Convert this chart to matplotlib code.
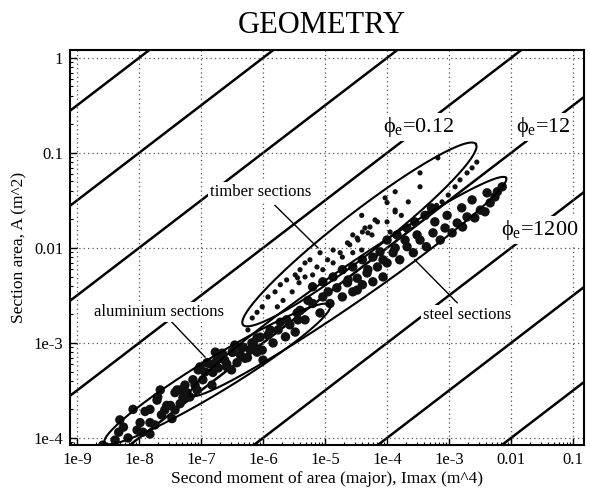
import numpy as np
import matplotlib
matplotlib.use('Agg')
import matplotlib.pyplot as plt

plt.rcParams['font.family'] = ['Liberation Serif', 'DejaVu Serif']
plt.rcParams['mathtext.fontset'] = 'custom'
plt.rcParams['mathtext.rm'] = 'Liberation Serif'
plt.rcParams['mathtext.it'] = 'Liberation Serif:italic'

# ---------------- data ----------------
alu_I = [2.6e-9, 4.7e-9, 4.9e-9, 5.6e-9, 8.0e-9, 1.04e-8, 1.15e-8, 1.25e-8, 1.5e-8, 1.5e-8,
         1.5e-8, 2.0e-8, 2.3e-8, 3.2e-8, 3.4e-8, 3.8e-8, 4.6e-8, 4.6e-8, 5.5e-8, 6.6e-8,
         7.4e-8, 8.6e-8, 1.95e-8, 2.8e-8, 4.1e-8, 5.9e-8, 1.07e-7, 1.25e-7, 1.55e-7, 1.8e-7,
         2.2e-7, 2.6e-7, 3.2e-7, 3.8e-7, 4.8e-7, 5.6e-7, 6.9e-7, 8.0e-7, 9.0e-8, 9.0e-7, 1.0e-6,
         6.65e-9, 9.3e-9, 1.8e-8, 2.6e-8, 3.8e-8, 5.1e-8, 8.0e-8, 1.16e-7, 1.5e-7, 1.9e-7,
         2.4e-7, 3.1e-7, 4.3e-7, 6.2e-7, 4.1e-9, 2.2e-8]
alu_A = [8.4e-5, 1.15e-4, 1.55e-4, 1.3e-4, 2.0e-4, 1.45e-4, 1.15e-4, 1.9e-4, 2.0e-4, 1.45e-4,
         1.1e-4, 2.7e-4, 1.75e-4, 2.2e-4, 1.6e-4, 3.0e-4, 3.2e-4, 2.3e-4, 3.6e-4, 2.7e-4,
         4.1e-4, 3.2e-4, 2.5e-4, 2.2e-4, 3.2e-4, 3.0e-4, 4.1e-4, 6.2e-4, 4.9e-4, 6.6e-4,
         7.8e-4, 5.6e-4, 8.0e-4, 6.2e-4, 9.0e-4, 7.0e-4, 1.0e-3, 8.0e-4, 5.2e-4, 1.15e-3, 6.6e-4,
         1.0e-4, 1.21e-4, 1.37e-4, 1.97e-4, 1.97e-4, 2.64e-4, 3.6e-4, 4.95e-4, 3.6e-4, 5.45e-4,
         6.6e-4, 5.2e-4, 7.5e-4, 8.4e-4, 9.5e-5, 3.2e-4]

steel_I = [9.6e-8, 1.4e-7, 2.0e-7, 2.6e-7, 3.2e-7, 4.3e-7, 5.1e-7, 6.6e-7, 8.0e-7, 9.7e-7,
           1.2e-6, 1.45e-6, 1.75e-6, 2.3e-6, 2.7e-6, 3.3e-6, 3.65e-6,
           2.4e-6, 3.55e-6, 4.75e-6, 6.3e-6, 8.3e-6, 9.2e-6, 1.2e-5, 1.55e-5, 1.9e-5, 2.3e-5,
           2.8e-5, 3.3e-5, 4.0e-5, 4.75e-5, 5.9e-5, 7.0e-5, 8.6e-5, 1.0e-4,
           8.6e-5, 1.25e-4, 1.6e-4, 2.1e-4, 2.65e-4, 3.4e-4, 4.3e-4, 5.5e-4, 7.2e-4, 8.6e-4,
           1.12e-3, 1.35e-3, 1.65e-3, 1.95e-3, 2.6e-3, 3.2e-3, 3.8e-3, 4.6e-3, 5.5e-3, 6.0e-3, 7.2e-3,
           1.0e-4, 1.45e-4, 2.1e-4, 2.8e-4, 4.1e-4, 5.2e-4,
           6.3e-6, 9.2e-6, 1.35e-5, 1.9e-5, 2.8e-5, 4.0e-5, 5.9e-5, 7.7e-5,
           5.3e-6, 1.12e-5, 2.35e-5, 4.9e-5, 1.35e-4, 1.95e-4, 3.05e-4, 5.9e-4, 9.3e-4, 1.6e-3,
           2.35e-3, 4.1e-3, 1.3e-6, 1.9e-6, 7.4e-7, 3.5e-7, 1.7e-7, 3.95e-6, 3.3e-5]
steel_A = [5.6e-4, 6.0e-4, 6.9e-4, 6.0e-4, 8.0e-4, 9.0e-4, 6.9e-4, 1.0e-3, 1.13e-3, 8.4e-4,
           1.21e-3, 1.0e-3, 1.37e-3, 1.16e-3, 1.55e-3, 1.3e-3, 1.75e-3,
           1.75e-3, 2.07e-3, 1.75e-3, 2.6e-3, 2.07e-3, 3.05e-3, 2.6e-3, 3.8e-3, 3.05e-3, 4.3e-3,
           3.45e-3, 4.8e-3, 4.1e-3, 5.45e-3, 4.4e-3, 6.3e-3, 4.95e-3, 6.95e-3,
           7.5e-3, 8.9e-3, 7.5e-3, 0.0103, 8.9e-3, 0.0121, 0.0103, 0.0144, 0.0121, 0.0162,
           0.0144, 0.0183, 0.0166, 0.0212, 0.0207, 0.025, 0.024, 0.0298, 0.0344, 0.039, 0.044,
           0.0121, 0.0137, 0.0162, 0.0188, 0.022, 0.0264,
           3.9e-3, 4.4e-3, 4.95e-3, 5.9e-3, 6.3e-3, 7.5e-3, 8.0e-3, 9.1e-3,
           2.8e-3, 3.45e-3, 4.6e-3, 5.9e-3, 0.0100, 0.0121, 0.0137, 0.0188, 0.022, 0.0264,
           0.032, 0.038, 1.37e-3, 1.65e-3, 9.0e-4, 9.5e-4, 8.0e-4, 2.2e-3, 3.6e-3]

timber_I = [5.7e-7, 6.7e-7, 8.0e-7, 9.7e-7, 1.2e-6, 1.56e-6, 1.9e-6, 2.4e-6, 3.3e-6, 3.95e-6,
            4.75e-6, 5.7e-6, 8.3e-6, 1.35e-5, 2.3e-5, 2.8e-5, 4.0e-5, 5.3e-5, 7.0e-5,
            1.7e-6, 2.1e-6, 2.95e-6, 3.8e-6, 4.75e-6, 6.3e-6, 9.2e-6, 1.35e-5, 1.9e-5, 2.8e-5, 3.9e-5,
            3.6e-6, 7.4e-6, 1.1e-5, 1.75e-5, 2.5e-5, 3.4e-5, 4.9e-5,
            9.3e-5, 1.0e-4, 3.9e-5, 6.4e-5, 1.0e-4, 4.4e-5, 5.7e-5, 1.35e-4, 3.3e-5, 1.12e-4,
            6.6e-4, 3.4e-4, 3.4e-4, 1.35e-4, 2.2e-4, 1.35e-4, 1.7e-4,
            4.6e-4, 5.2e-4, 6.3e-4, 7.7e-4, 9.7e-4, 1.25e-3, 1.5e-3, 1.95e-3, 2.35e-3, 2.8e-3]
timber_A = [1.37e-3, 1.83e-3, 2.1e-3, 2.4e-3, 3.05e-3, 3.45e-3, 4.1e-3, 4.6e-3, 5.2e-3, 5.9e-3,
            6.95e-3, 7.5e-3, 8.9e-3, 9.5e-3, 0.0113, 0.0137, 0.0147, 0.0166, 0.0188,
            2.4e-3, 2.8e-3, 3.45e-3, 4.3e-3, 4.95e-3, 5.2e-3, 5.9e-3, 6.95e-3, 8.0e-3, 8.9e-3, 9.5e-3,
            4.85e-3, 6.3e-3, 7.5e-3, 8.9e-3, 0.0108, 0.0121, 0.0144,
            0.0336, 0.030, 0.022, 0.0197, 0.0188, 0.0162, 0.0137, 0.0239, 0.0127, 0.0147,
            0.0886, 0.0616, 0.044, 0.039, 0.0305, 0.025, 0.022,
            0.0233, 0.025, 0.028, 0.0305, 0.036, 0.044, 0.052, 0.0616, 0.0695, 0.080]

# shape-factor guide lines, phi_e = 12 I / A^2
phi_values = [1.2e-7, 1.2e-5, 1.2e-3, 0.12, 12, 1200, 1.2e5, 1.2e7]

x_ticks = [1e-9, 1e-8, 1e-7, 1e-6, 1e-5, 1e-4, 1e-3, 1e-2, 1e-1]
x_ticklabels = ['1e-9', '1e-8', '1e-7', '1e-6', '1e-5', '1e-4', '1e-3', '0.01', '0.1']
y_ticks = [1e-4, 1e-3, 1e-2, 1e-1, 1]
y_ticklabels = ['1e-4', '1e-3', '0.01', '0.1', '1']

# envelope ellipses: (end point 1, end point 2) in data units, half-width in px
envelopes = {
    'timber': ((4.75e-7, 1.55e-3), (2.7e-3, 0.124), 21),
    'steel': ((6.6e-8, 2.8e-4), (8.3e-3, 0.0546), 18),
    'aluminium': ((2.8e-9, 8.9e-5), (1.2e-5, 2.5e-3), 17),
}

# ---------------- figure ----------------
fig = plt.figure(figsize=(5.9, 4.9), dpi=100)
ax = fig.add_axes([70 / 590, 45 / 490, 514 / 590, 395 / 490])
ax.set_xscale('log')
ax.set_yscale('log')
ax.set_xlim(7.7e-10, 0.15)
ax.set_ylim(8.43e-5, 1.21)

ax.set_xticks(x_ticks)
ax.set_xticklabels(x_ticklabels)
ax.set_yticks(y_ticks)
ax.set_yticklabels(y_ticklabels)
ax.tick_params(which='major', direction='in', length=5, width=1.0, labelsize=12, pad=5)
ax.tick_params(which='minor', direction='in', length=2.5, width=0.8)
ax.grid(True, which='major', ls=(0, (1, 2.5)), color='#555555', lw=0.9, zorder=0)
for s in ax.spines.values():
    s.set_linewidth(1.5)

xr = np.array(ax.get_xlim())
for phi in phi_values:
    ax.plot(xr, np.sqrt(12 * xr / phi), color='black', lw=1.8, zorder=1.5)

ax.scatter(alu_I, alu_A, s=46, color='#111111', edgecolors='none', zorder=2.5)
ax.scatter(steel_I, steel_A, s=46, color='#111111', edgecolors='none', zorder=2.5)
ax.scatter(timber_I, timber_A, s=14, color='#111111', edgecolors='none', zorder=2.5)

fig.canvas.draw()
inv = ax.transData.inverted()
t = np.linspace(0, 2 * np.pi, 400)
for name, (p1, p2, hw) in envelopes.items():
    d1 = ax.transData.transform(p1)
    d2 = ax.transData.transform(p2)
    c = (d1 + d2) / 2
    v = d2 - d1
    a = np.hypot(*v) / 2
    ang = np.arctan2(v[1], v[0])
    b = hw * fig.dpi / 100
    ex = a * np.cos(t)
    ey = b * np.sin(t)
    px = c[0] + ex * np.cos(ang) - ey * np.sin(ang)
    py = c[1] + ex * np.sin(ang) + ey * np.cos(ang)
    pts = inv.transform(np.column_stack([px, py]))
    ax.plot(pts[:, 0], pts[:, 1], color='black', lw=1.5, zorder=3)

box = dict(facecolor='white', edgecolor='none', pad=1.5)
ann_fs = 12
ax.text(9.3e-7, 0.039, 'timber sections', fontsize=ann_fs, ha='center', va='center', bbox=box, zorder=5)
ax.plot([1.56e-6, 7.7e-6], [0.028, 0.0100], color='black', lw=1.0, zorder=4)
ax.text(2.1e-8, 2.12e-3, 'aluminium sections', fontsize=ann_fs, ha='center', va='center', bbox=box, zorder=5)
ax.plot([3.4e-8, 1.16e-7], [1.65e-3, 7.1e-4], color='black', lw=1.0, zorder=4)
ax.text(1.95e-3, 1.97e-3, 'steel sections', fontsize=ann_fs, ha='center', va='center', bbox=box, zorder=5)
ax.plot([2.8e-4, 1.35e-3], [7.5e-3, 2.65e-3], color='black', lw=1.0, zorder=4)

phi_fs = 16
ax.text(3.3e-4, 0.188, r'$\mathrm{ϕ}_{\mathrm{e}}$=0.12', fontsize=phi_fs, ha='center', va='center', bbox=box, zorder=5)
ax.text(0.0328, 0.188, r'$\mathrm{ϕ}_{\mathrm{e}}$=12', fontsize=phi_fs, ha='center', va='center', bbox=box, zorder=5)
ax.text(0.0294, 0.0155, r'$\mathrm{ϕ}_{\mathrm{e}}$=1200', fontsize=phi_fs, ha='center', va='center', bbox=box, zorder=5)

ax.set_xlabel('Second moment of area (major), Imax (m^4)', fontsize=12.5, labelpad=2)
ax.set_ylabel('Section area, A (m^2)', fontsize=12.5, labelpad=4)
fig.text(0.545, 0.948, 'GEOMETRY', fontsize=22, ha='center', va='center')

fig.savefig('out.png', dpi=100)
